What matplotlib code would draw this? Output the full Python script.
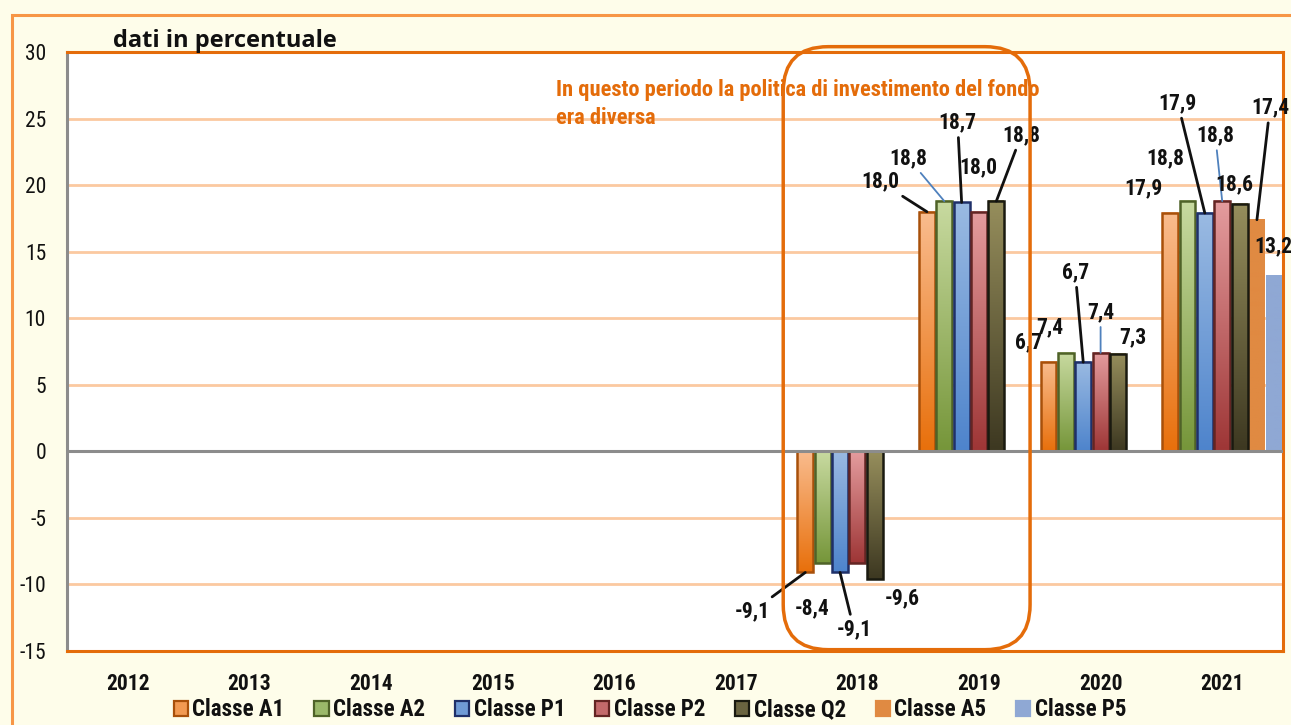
import numpy as np
import matplotlib
matplotlib.use("Agg")
import matplotlib.pyplot as plt
from matplotlib import font_manager
from matplotlib.patches import Patch, Rectangle, FancyBboxPatch
from matplotlib.colors import to_rgb
from matplotlib.transforms import IdentityTransform

names = {f.name for f in font_manager.fontManager.ttflist}
NARROW = 'Liberation Sans'
for cand in ['Liberation Sans Narrow', 'Roboto Condensed', 'Open Sans Condensed']:
    if cand in names:
        NARROW = cand
        break

# ---------------- data ----------------
years = ['2012', '2013', '2014', '2015', '2016', '2017', '2018', '2019', '2020', '2021']
nan = np.nan
classe_a1 = [nan, nan, nan, nan, nan, nan, -9.1, 18.0, 6.7, 17.9]
classe_a2 = [nan, nan, nan, nan, nan, nan, -8.4, 18.8, 7.4, 18.8]
classe_p1 = [nan, nan, nan, nan, nan, nan, -9.1, 18.7, 6.7, 17.9]
classe_p2 = [nan, nan, nan, nan, nan, nan, -8.4, 18.0, 7.4, 18.8]
classe_q2 = [nan, nan, nan, nan, nan, nan, -9.6, 18.8, 7.3, 18.6]
classe_a5 = [nan, nan, nan, nan, nan, nan, nan, nan, nan, 17.4]
classe_p5 = [nan, nan, nan, nan, nan, nan, nan, nan, nan, 13.2]
series_names = ['Classe A1', 'Classe A2', 'Classe P1', 'Classe P2', 'Classe Q2', 'Classe A5', 'Classe P5']
series = [classe_a1, classe_a2, classe_p1, classe_p2, classe_q2, classe_a5, classe_p5]
hidden_labels = {(3, 6)}  # Classe P2 2018 label not shown
y_ticks = [-15, -10, -5, 0, 5, 10, 15, 20, 25, 30]
note_lines = ['In questo periodo la politica di investimento del fondo', 'era diversa']

# ---------------- styles ----------------
grad_top = ['#F9BC8E', '#C8DAA0', '#9ABAE2', '#E49C9E', '#968E5C', '#E08A42', '#8FA8D4']
grad_bot = ['#E8700C', '#76963A', '#4E84CC', '#9E3636', '#3D3821', '#E08A42', '#8FA8D4']
edges = ['#A8500A', '#4F6228', '#1F3069', '#632523', '#1A1A10', None, None]
leg_face = ['#F29A52', '#9BB86A', '#6F9BD6', '#C36A6B', '#6A6440', '#E08A42', '#8FA8D4']

# label offsets in pixels (dx, dy) relative to bar end, and leader colour
K = '#111111'
B = '#4F81BD'
label_style = {
    (0, 6): (-53, -39, K), (1, 6): (-11, -45, None), (2, 6): (14, -57, K), (4, 6): (27, -19, None),
    (0, 7): (-47, 30, K), (1, 7): (-36, 43, B), (2, 7): (-4, 80, K), (3, 7): (-1, 44, None), (4, 7): (25, 66, K),
    (0, 8): (-20, 20, None), (1, 8): (-16, 26, None), (2, 8): (-8, 90, K), (3, 8): (0, 41, B), (4, 8): (15, 17, None),
    (0, 9): (-27, 25, None), (1, 9): (-22, 43, None), (2, 9): (-27, 110, K), (3, 9): (-7, 66, B),
    (4, 9): (-5, 19, None), (5, 9): (13, 112, K), (6, 9): (-1, 29, None),
}
LBL = 15.5

W, H = 1291, 725
fig = plt.figure(figsize=(W / 100, H / 100), dpi=100)
fig.patch.set_facecolor('#FEFDEA')

# outer frame
fig.patches.append(Rectangle((12, -20), 1400, H - 15 + 20, transform=IdentityTransform(),
                             fill=False, edgecolor='#F79646', linewidth=2.2))

ax = fig.add_axes([67 / W, 1 - 651 / H, (1283 - 67) / W, (651 - 52) / H])
ax.set_facecolor('white')
n = len(series)
bw = 1.0 / n
x = np.arange(len(years))
ax.set_xlim(-0.5, len(years) - 0.5)
ax.set_ylim(-15, 30)

for s, vals in enumerate(series):
    top = np.array(to_rgb(grad_top[s]))
    bot = np.array(to_rgb(grad_bot[s]))
    for i, v in enumerate(vals):
        if np.isnan(v):
            continue
        xc = x[i] + (s - (n - 1) / 2) * bw
        x0, x1 = xc - bw / 2 + 0.006, xc + bw / 2 - 0.006
        y0, y1 = min(0, v), max(0, v)
        t = np.linspace(0, 1, 64)[:, None]
        img = (top[None, :] * (1 - t) + bot[None, :] * t)[:, None, :]
        ax.imshow(img, extent=(x0, x1, y0, y1), origin='upper', aspect='auto', zorder=3,
                  interpolation='bilinear')
        if edges[s] is not None:
            ax.bar(xc, v, width=bw - 0.012, facecolor='none', edgecolor=edges[s], linewidth=1.8, zorder=4)
        if (s, i) in hidden_labels or (s, i) not in label_style:
            continue
        dx, dy, lc = label_style[(s, i)]
        txt = f"{v:.1f}".replace('.', ',')
        ap = None
        if lc is not None:
            ap = dict(arrowstyle='-', color=lc, lw=2.0 if lc == K else 1.3, shrinkA=1, shrinkB=0)
        ax.annotate(txt, xy=(xc, v), xytext=(dx, dy), textcoords='offset pixels',
                    ha='center', va='center', fontsize=LBL, fontweight='bold',
                    family=NARROW, color='#111111', zorder=6, arrowprops=ap,
                    annotation_clip=False)

ax.set_xlim(-0.5, len(years) - 0.5)
ax.set_ylim(-15, 30)

# grid
ax.set_yticks(y_ticks)
for yv in y_ticks[1:-1]:
    if yv == 0:
        continue
    ax.axhline(yv, color='#FBC9A0', lw=2.0, zorder=1)
ax.axhline(0, color='#8C8C8C', lw=2.2, zorder=5)

ax.set_xticks(x)
ax.set_xticklabels(years, fontsize=15.5, fontweight='bold', family=NARROW, color='#111111')
ax.set_yticklabels([str(v) for v in y_ticks], fontsize=15.5, family=NARROW, color='#111111')
ax.tick_params(axis='x', length=0, pad=16)
ax.tick_params(axis='y', length=0, pad=15)

for side in ['top', 'right', 'bottom']:
    ax.spines[side].set_color('#E46C0A')
    ax.spines[side].set_linewidth(2.2)
ax.spines['left'].set_color('#8C8C8C')
ax.spines['left'].set_linewidth(2.2)

# annotation text (two lines)
for k, line in enumerate(note_lines):
    ax.text(3.52, 27.15 - 2.1 * k, line,
            color='#E46C0A', fontsize=16.2, fontweight='bold', family=NARROW, ha='left',
            va='center', zorder=7)

# rounded box around 2018-2019 (in display pixels)
fig.canvas.draw()
p0 = ax.transData.transform((5.39, -14.9))
p1 = ax.transData.transform((7.42, 30.4))
box = FancyBboxPatch((p0[0], p0[1]), p1[0] - p0[0], p1[1] - p0[1],
                     boxstyle='round,pad=0,rounding_size=45', transform=IdentityTransform(),
                     fill=False, edgecolor='#E46C0A', linewidth=2.5, zorder=8)
fig.patches.append(box)

# title
fig.text(113 / W, 1 - 41 / H, 'dati in percentuale', fontsize=17, fontweight='bold',
         family='Open Sans', ha='left', va='center', color='#111111')

# legend
handles = [Patch(facecolor=leg_face[s], edgecolor=edges[s] or leg_face[s],
                 linewidth=1.6, label=series_names[s]) for s in range(n)]
fig.legend(handles=handles, loc='center', bbox_to_anchor=(650 / W, 1 - 710 / H), ncol=7,
           frameon=False, prop=dict(family=NARROW, weight='bold', size=16.5),
           handlelength=0.62, handleheight=0.62, handletextpad=0.2, columnspacing=1.3,
           borderaxespad=0, labelcolor='#111111')

fig.savefig('out.png', dpi=100, facecolor=fig.get_facecolor())
